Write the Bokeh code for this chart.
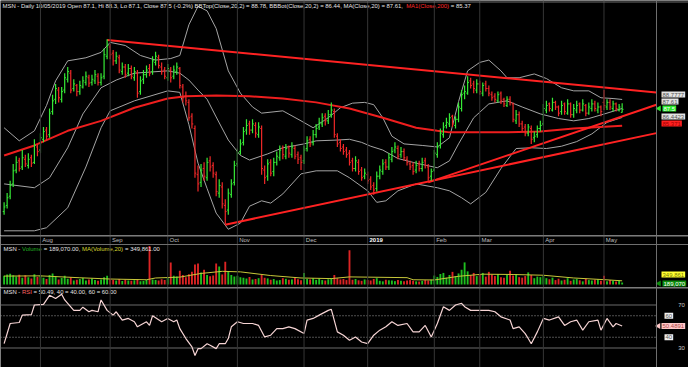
import math
from bokeh.plotting import figure
from bokeh.layouts import column
from bokeh.models import Range1d, Span, Label, ColumnDataSource
from bokeh.core.properties import value
from bokeh.embed import file_html
from bokeh.resources import INLINE

# ---------------- data ----------------
month_names = ["Aug", "Sep", "Oct", "Nov", "Dec", "2019", "Feb", "Mar", "Apr", "May"]
month_start = [12, 35, 54, 77, 99, 120, 142, 157, 178, 198]

open_jul = [74.2,75.0,76.2,77.8,79.6,80.8,80.0,81.0,80.2,81.2,80.6,82.6]
high_jul = [75.4,76.6,78.2,80.4,81.4,81.2,82.2,81.6,81.8,81.6,83.6,83.0]
low_jul = [73.8,74.6,75.8,77.4,79.2,79.4,79.6,80.0,79.8,80.0,80.4,81.4]
close_jul = [74.8,76.0,77.6,79.5,80.6,79.8,81.2,80.4,81.0,80.5,82.8,82.0]

open_aug = [82.2,83.6,84.8,84.2,87.2,88.8,90.0,88.8,90.0,91.4,92.2,90.2,90.6,89.8,90.4,91.0,91.6,91.0,91.2,91.8,91.0,91.8,94.4]
high_aug = [84.4,85.2,85.2,87.6,89.4,90.8,90.4,90.4,92.2,93.0,92.6,91.4,90.8,91.2,91.8,92.4,92.0,92.0,92.6,92.2,92.2,95.4,96.6]
low_aug = [81.8,83.2,83.4,83.8,86.8,88.2,88.4,88.4,89.6,91.0,89.6,89.8,89.2,89.4,90.2,90.6,90.4,90.6,90.8,90.6,90.6,91.4,94.0]
close_aug = [83.8,84.6,84.0,87.0,88.6,90.2,89.0,89.8,91.6,92.4,90.0,90.8,89.8,90.6,91.2,91.8,90.9,91.4,92.0,91.0,91.6,94.6,95.8]

open_sep = [95.6,94.8,93.8,94.2,92.4,93.0,92.2,92.8,91.6,92.2,89.8,91.4,92.0,92.8,92.4,93.6,94.2,93.0,92.6]
high_sep = [96.0,95.2,95.0,94.6,93.6,93.4,93.4,93.2,93.0,92.6,91.8,92.6,93.2,93.4,94.4,95.0,94.6,93.6,93.0]
low_sep = [94.0,93.2,93.4,92.2,92.0,91.6,91.8,91.4,91.2,89.0,89.4,90.8,91.6,91.8,92.0,93.2,92.8,92.0,91.4]
close_sep = [94.6,93.8,94.4,92.6,93.0,92.0,92.8,91.8,92.4,89.6,91.2,92.0,92.6,92.2,93.8,94.4,93.2,92.4,91.8]

open_oct = [91.6,92.6,91.8,92.4,92.8,90.4,89.2,88.4,86.6,85.0,79.0,78.0,79.8,78.6,80.8,80.2,79.0,76.6,77.4,75.0,74.4,76.4,78.0]
high_oct = [93.4,93.0,93.2,93.6,93.0,90.8,89.8,88.8,87.0,85.4,80.2,80.4,80.6,81.2,81.4,80.6,79.4,78.4,78.0,75.8,77.2,78.4,80.8]
low_oct = [91.2,91.0,91.4,92.0,90.2,88.4,88.0,86.0,85.0,78.6,76.8,77.4,78.2,78.2,79.4,78.6,76.2,76.0,74.6,72.6,73.8,76.0,77.6]
close_oct = [92.8,91.6,92.6,93.0,90.6,89.0,88.6,86.4,85.6,79.2,77.8,79.6,78.8,80.6,80.0,79.2,76.8,77.6,75.2,74.2,76.6,77.8,80.2]

open_nov = [80.4,82.0,83.2,84.8,85.6,84.8,85.4,84.2,85.0,79.6,78.8,80.6,79.4,80.6,81.2,82.4,81.4,82.6,81.6,82.4,81.6,81.2]
high_nov = [82.4,83.6,85.2,86.2,86.0,86.2,85.8,85.8,85.4,80.2,81.0,81.0,81.2,82.0,82.8,82.8,83.0,82.8,83.2,82.8,82.0,81.6]
low_nov = [80.0,81.6,82.8,84.2,84.2,84.4,83.8,83.8,79.0,77.8,78.2,78.8,78.8,80.2,80.8,81.0,81.0,81.2,81.2,81.0,80.4,79.6]
close_nov = [81.8,83.0,84.6,85.4,84.8,85.6,84.4,85.2,79.8,78.6,80.4,79.2,80.6,81.4,82.2,81.6,82.4,81.8,82.6,81.4,81.0,80.6]

open_dec = [80.8,82.4,83.6,83.2,84.2,85.2,85.6,86.6,86.0,86.8,87.2,84.0,83.2,82.6,82.2,81.8,80.8,79.8,80.6,79.6,78.8]
high_dec = [82.8,84.0,84.0,84.8,85.6,86.4,87.0,87.0,87.4,88.4,87.6,84.4,83.6,83.0,82.6,82.2,81.2,81.4,81.0,80.0,79.8]
low_dec = [80.4,82.0,82.6,82.8,83.8,84.8,85.2,85.4,85.6,86.4,83.8,82.6,82.0,81.6,81.2,80.2,79.4,79.4,79.0,78.2,78.4]
close_dec = [82.2,83.4,83.0,84.2,85.0,85.8,86.4,86.0,86.8,87.4,84.2,83.0,82.4,82.0,81.6,80.6,79.8,80.8,79.4,78.6,79.2]

open_jan = [79.0,78.4,77.6,77.2,78.8,79.4,80.6,80.0,81.0,82.2,82.4,81.6,82.0,81.0,80.4,80.2,79.6,80.4,79.8,80.8,80.0,78.8]
high_jan = [79.4,78.8,78.0,79.4,80.2,81.0,81.0,81.8,82.6,83.2,82.8,82.6,82.4,81.4,80.8,80.6,80.8,80.8,81.2,81.2,80.4,79.8]
low_jan = [77.8,77.0,76.4,76.8,78.4,79.0,79.6,79.6,80.6,81.8,81.0,81.2,80.8,80.2,79.6,79.0,79.2,79.4,79.4,79.8,78.2,78.2]
close_jan = [78.2,77.4,77.0,78.8,79.6,80.4,80.0,81.2,82.0,82.6,81.4,82.0,81.2,80.6,80.0,79.4,80.2,79.8,80.6,80.2,78.6,79.4]

open_feb = [79.6,81.6,82.8,84.2,85.4,85.6,86.6,85.4,86.2,87.6,89.6,89.6,91.2,90.8,90.0]
high_feb = [82.2,83.2,85.0,85.8,86.4,87.0,86.8,86.6,88.4,90.0,90.6,91.8,91.6,91.2,91.4]
low_feb = [79.4,81.2,82.4,83.8,85.0,85.2,85.2,85.0,85.8,87.2,88.8,89.4,90.2,89.6,89.6]
close_feb = [81.8,82.6,84.4,85.2,85.8,86.4,85.6,86.2,87.8,89.4,89.8,91.0,90.6,90.2,90.8]

open_mar = [90.8,89.6,90.8,90.2,89.4,89.2,88.6,89.6,88.8,88.0,88.8,88.2,86.0,86.8,85.6,85.2,84.4,85.0,83.8,84.2,85.0]
high_mar = [91.2,91.0,91.2,90.6,89.8,89.6,89.8,89.8,89.0,89.2,89.2,88.4,87.4,87.2,86.0,85.6,85.6,85.4,84.6,85.4,86.0]
low_mar = [89.4,89.2,89.8,89.2,88.6,88.4,88.4,88.2,87.8,87.8,88.0,85.8,85.6,85.2,84.6,84.0,84.0,83.0,83.2,83.8,84.6]
close_mar = [89.8,90.6,90.2,89.6,89.0,88.8,89.4,88.6,88.2,88.8,88.4,86.2,86.8,85.6,85.0,84.4,85.2,83.6,84.0,85.0,85.4]

open_apr = [85.6,87.4,88.2,87.4,88.4,87.8,87.2,88.2,87.0,88.2,86.8,87.4,88.2,87.4,88.0,87.0,87.6,88.2,87.4,87.8]
high_apr = [88.2,88.6,88.4,89.0,88.6,88.0,88.6,88.4,88.8,88.4,88.2,88.6,88.4,88.8,88.2,88.4,88.8,88.6,88.4,88.0]
low_apr = [85.4,87.0,87.2,87.2,87.4,86.6,86.8,86.8,86.8,86.4,86.4,87.0,87.0,87.2,86.6,86.8,87.2,87.2,87.0,86.6]
close_apr = [87.6,88.0,87.6,88.4,87.8,87.0,88.0,87.2,88.2,86.8,87.6,88.0,87.4,88.2,87.0,87.8,88.2,87.6,87.8,87.2]

open_may = [88.4,87.8,88.4,87.6,88.2,87.4,87.1]
high_may = [90.0,88.8,88.8,88.6,88.4,88.2,88.3]
low_may = [87.4,87.4,87.4,87.2,87.2,87.2,87.1]
close_may = [88.0,88.4,87.8,88.2,87.6,87.8,87.5]

# volume, thousands of shares
vol_jul = [820,950,1020,880,760,930,640,870,700,560,980,720]
vol_aug = [860,640,520,900,1050,760,480,620,830,540,700,390,450,520,610,380,470,560,420,350,480,690,820]
vol_sep = [560,430,380,520,340,450,390,360,410,520,300,330,450,3650,480,420,390,510,430]
vol_oct = [640,2100,820,760,1300,900,700,980,1200,1900,2000,1150,1400,900,780,860,2000,1700,950,2150,1200,900,760]
vol_nov = [820,700,650,560,720,480,520,600,900,640,580,450,520,380,420,600,540,450,480,620,500,400]
vol_dec = [1100,520,480,600,440,560,420,380,500,620,900,600,480,520,420,3250,450,520,400,350,480]
vol_jan = [420,380,520,600,350,300,450,400,380,320,420,350,300,380,420,360,300,280,340,420,380,450]
vol_feb = [850,720,1000,1100,650,900,1200,780,1050,1400,2100,1250,900,1100,800]
vol_mar = [900,1100,750,1200,950,800,1000,700,650,900,1300,850,1000,700,650,800,1150,900,600,750,700]
vol_apr = [850,600,500,650,420,550,380,450,600,350,480,520,400,300,550,420,380,450,500,350]
vol_may = [820,300,420,350,280,380,189]

vma_day = [0,12,25,35,47,50,58,65,72,78,88,98,108,114,120,133,135,142,150,158,168,178,188,198,204]
vma_val = [800,820,640,520,450,620,700,1050,1250,1200,850,620,560,720,700,650,450,430,780,980,950,880,620,460,350]

# Bollinger bands / MA20 / MA200 (bar index, price)
bbu_day = [0,5,10,14,17,21,27,32,35,40,45,50,55,58,61,64,67,70,74,78,82,85,92,98,102,107,111,115,119,122,125,128,132,138,143,147,150,153,157,160,164,166,170,175,179,184,188,193,197,201,204]
bbu_val = [85.1,83.4,84.7,88.0,91.2,93.8,94.2,94.9,96.2,95.8,94.5,93.9,94.1,94.5,98.5,100.9,100.3,98.0,92.5,89.6,87.8,87.0,87.3,86.0,85.1,86.4,87.7,88.3,88.4,88.1,86.4,84.0,83.0,82.8,82.6,83.8,88.5,92.5,93.6,93.9,92.5,91.6,91.6,92.1,91.5,90.3,89.9,89.9,89.0,88.9,88.78]
bbm_day = [0,10,15,21,26,32,37,43,54,58,61,64,67,70,74,78,81,87,92,99,103,110,114,118,121,125,130,136,143,147,150,155,160,166,171,177,183,188,193,199,204]
bbm_val = [77.8,77.3,78.6,82.5,86.9,90.3,91.3,92.2,92.5,92.2,91.3,90.0,88.8,86.5,83.5,81.5,80.9,81.7,82.5,83.0,83.4,83.5,83.6,83.2,82.7,82.2,81.1,80.5,79.9,80.8,83.0,86.4,88.2,88.6,87.8,86.9,86.3,86.0,86.3,87.0,87.61]
bbl_day = [0,10,14,21,27,32,35,43,54,58,61,64,67,70,74,78,81,85,88,92,98,103,110,114,120,123,126,130,136,143,147,151,154,159,164,169,174,179,184,189,194,199,204]
bbl_val = [71.7,71.7,72.1,74.7,80.0,85.1,87.3,88.6,89.9,89.7,85.5,80.5,77.2,74.0,71.9,72.7,74.9,75.6,75.3,76.5,79.1,79.5,79.5,78.6,76.9,75.4,75.6,76.9,77.8,77.3,76.9,76.0,75.2,76.7,79.8,82.4,82.5,82.4,82.7,83.3,84.3,85.8,86.44]
ma200_day = [0,10,21,32,43,54,60,70,81,92,103,114,125,136,143,147,155,166,177,188,204]
ma200_val = [81.5,82.8,84.7,86.0,87.7,88.9,89.2,89.3,89.2,88.9,88.4,87.6,86.4,85.1,84.7,84.5,84.5,84.5,84.6,85.0,85.37]

# hand-drawn trend lines (bar index, price)
tl_top_day = [34, 215.3]
tl_top_val = [96.5, 89.7]
tl_low1_day = [73, 215.3]
tl_low1_val = [72.5, 84.4]
tl_low2_day = [140, 215.3]
tl_low2_val = [78.0, 88.1]

rsi_day = [0,2,5,6,9,10,13,15,17,19,20,23,25,26,28,29,31,32,34,36,37,39,41,43,44,47,48,49,52,54,56,57,58,60,62,63,64,65,67,68,70,71,73,74,75,77,79,82,84,86,88,90,92,94,96,99,100,102,104,107,108,110,112,114,116,118,120,122,124,126,128,130,133,135,137,139,141,143,145,147,149,151,152,154,157,160,162,164,167,168,170,172,173,174,176,178,180,183,185,187,189,191,193,196,197,199,201,202,204]
rsi_val = [34,52.8,53.7,60.6,61,70,70.6,79,76,80,74.7,65,65,68,63.7,65,63.7,74.7,65,60.6,63.7,56,57.5,54.4,49.7,54.4,51,60,54.4,57.5,54.4,56,48,38.8,31,23,29.4,29.4,34,32.5,29.4,34,34,38.8,49.7,54.4,52.8,52.8,51,40.3,41.9,48,48,49.7,48,43.4,56,57.5,60.6,65,66,45,41.9,37.2,40.3,35.6,34,41.9,46.6,49.7,54.4,51,52.8,45,45,51,40.3,52.8,68.4,65,70,71.6,68.4,65,65,65,63.7,59,56,48,49.7,43.4,38.8,34,45,57.5,56,59,51,54.4,56,46.6,54.4,56,46.6,57.5,49.7,52.8,50.49]

opens = open_jul + open_aug + open_sep + open_oct + open_nov + open_dec + open_jan + open_feb + open_mar + open_apr + open_may
highs = high_jul + high_aug + high_sep + high_oct + high_nov + high_dec + high_jan + high_feb + high_mar + high_apr + high_may
lows = low_jul + low_aug + low_sep + low_oct + low_nov + low_dec + low_jan + low_feb + low_mar + low_apr + low_may
closes = close_jul + close_aug + close_sep + close_oct + close_nov + close_dec + close_jan + close_feb + close_mar + close_apr + close_may
vols = vol_jul + vol_aug + vol_sep + vol_oct + vol_nov + vol_dec + vol_jan + vol_feb + vol_mar + vol_apr + vol_may
idx = list(range(len(closes)))

# ---------------- layout helpers ----------------
W = 688
H1, H2, H3 = 235, 52, 80
X0, X1 = -1.19, 225.9
PXU = W / (X1 - X0)


def rx(px):
    return X0 + px / PXU


def py(px):
    return 87.5 + (108.8 - px) / 7.69


def vy(px):
    return (284.0 - px) * 95.0


def ry(px):
    return 70.0 + (304.5 - px) / 1.075


FONT = "Liberation Sans"
FS = 5.95
TXT = "#e4e4e4"
GRID = "#363636"
SEP = "#6e6e6e"
UP = "#36ea36"
DN = "#f02828"
VUP = "#1fbf1f"
VDN = "#dc2424"


def seg(x0, em):
    return x0 + em * FS / PXU


def make_fig(h, y0, y1):
    p = figure(width=W, height=h, x_range=Range1d(X0, X1), y_range=Range1d(y0, y1),
               output_backend="svg", toolbar_location=None,
               x_axis_location=None, y_axis_location=None,
               min_border=0, min_border_left=0, min_border_right=0,
               min_border_top=0, min_border_bottom=0,
               background_fill_color="black", border_fill_color="black",
               outline_line_color=None)
    p.grid.visible = False
    for m in month_start:
        p.add_layout(Span(location=m, dimension="height", line_color=GRID, line_width=1))
    p.add_layout(Span(location=rx(656), dimension="height", line_color=SEP, line_width=1))
    return p


def box(p, x, y, txt, bg, fg):
    p.add_layout(Label(x=x, y=y, text=txt, text_font=FONT, text_font_size="6px",
                       text_color=fg, text_align="left", text_baseline="middle",
                       background_fill_color=bg, padding=1))


def plain(p, x, y, txt, fg):
    p.add_layout(Label(x=x, y=y, text=txt, text_font=FONT, text_font_size="6px",
                       text_color=fg, text_align="center", text_baseline="middle"))


def titles(p, x0, y, parts):
    xs = [seg(x0, em) for (_, em, _) in parts]
    p.text(x=xs, y=[y] * len(parts), text=[t for (t, _, _) in parts],
           text_color=[c for (_, _, c) in parts], text_font=value(FONT),
           text_font_size=f"{FS}px", text_align="left", text_baseline="middle")


# ---------------- price panel ----------------
p1 = make_fig(H1, py(235), py(0))
p1.add_layout(Span(location=py(1.5), dimension="width", line_color=SEP, line_width=1))

p1.line(bbu_day, bbu_val, line_color="#a4a4a4", line_width=1)
p1.line(bbm_day, bbm_val, line_color="#a4a4a4", line_width=1)
p1.line(bbl_day, bbl_val, line_color="#a4a4a4", line_width=1)
p1.line(ma200_day, ma200_val, line_color="#ee1e1e", line_width=2)
p1.line(tl_top_day, tl_top_val, line_color="#ff2222", line_width=2)
p1.line(tl_low1_day, tl_low1_val, line_color="#ff2222", line_width=2)
p1.line(tl_low2_day, tl_low2_val, line_color="#ff2222", line_width=2)

colors = [UP if c >= o else DN for o, c in zip(opens, closes)]
src = ColumnDataSource(dict(x=idx, o=opens, h=highs, l=lows, c=closes, col=colors,
                            xl=[i - 0.45 for i in idx], xr=[i + 0.45 for i in idx]))
p1.segment(x0="x", y0="l", x1="x", y1="h", line_color="col", line_width=1.2, source=src)
p1.segment(x0="xl", y0="o", x1="x", y1="o", line_color="col", line_width=1, source=src)
p1.segment(x0="x", y0="c", x1="xr", y1="c", line_color="col", line_width=1, source=src)

s1 = ("MSN - Daily 10/05/2019 Open 87.1, Hi 88.3, Lo 87.1, Close 87.5 (-0.2%) "
      "BBTop(Close,20,2) = 88.78, BBBot(Close,20,2) = 86.44, MA(Close,20) = 87.61,")
titles(p1, rx(2), py(5.5), [(s1, 0, TXT), ("MA1(Close,200)", 67.84, "#ff2a2a"),
                             ("= 85.37", 67.84 + 7.22 + 0.278, TXT)])

box(p1, rx(661), py(94), "88.7777", "#e2e2e2", "#555555")
box(p1, rx(661), py(101), "87.61", "#e2e2e2", "#555555")
box(p1, rx(662), py(108), "87.5", "#2ee82e", "#ffffff")
p1.scatter([rx(658.5)], [py(108)], marker="triangle", size=6, angle=math.pi / 2,
           fill_color="#2ee82e", line_color=None)
box(p1, rx(661), py(116), "86.4423", "#e2e2e2", "#555555")
box(p1, rx(661), py(123), "85.371", "#ff2020", "#a00000")

# ---------------- date strip + volume panel ----------------
p2 = make_fig(H2, vy(287), vy(235))
p2.add_layout(Span(location=vy(235.6), dimension="width", line_color=SEP, line_width=1))
p2.add_layout(Span(location=vy(244), dimension="width", line_color=SEP, line_width=1))

p2.text(x=[m + 0.6 for m in month_start], y=[vy(239.5)] * len(month_start), text=month_names,
        text_color=["#ffffff" if n == "2019" else "#bdbdbd" for n in month_names],
        text_font_style=["bold" if n == "2019" else "normal" for n in month_names],
        text_font=value(FONT), text_font_size="6px", text_align="left", text_baseline="middle")

vcolors = [VUP if c >= o else VDN for o, c in zip(opens, closes)]
p2.vbar(x=idx, top=vols, bottom=0, width=0.62, fill_color=vcolors, line_color=None)
p2.line(vma_day, vma_val, line_color="#c8c83a", line_width=1)

titles(p2, rx(3), vy(248), [("MSN -", 0, TXT), ("Volume", 3.111, "#22b022"),
                            ("= 189,070.00,", 6.779, TXT), ("MA(Volume,20)", 13.201, "#d8d830"),
                            ("= 349,861.00", 20.425, TXT)])
box(p2, rx(661), vy(274), "349.861", "#ffff33", "#7a7a00")
box(p2, rx(662), vy(283), "189,070", "#0c8c0c", "#ffffff")
p2.scatter([rx(658.5)], [vy(283)], marker="triangle", size=6, angle=math.pi / 2,
           fill_color="#0c8c0c", line_color=None)

# ---------------- RSI panel ----------------
p3 = make_fig(H3, ry(367), ry(287))
p3.add_layout(Span(location=ry(287.6), dimension="width", line_color=SEP, line_width=1))
edge = rx(656)
p3.line([X0, edge], [70, 70], line_color="#6a6a6a", line_width=1)
p3.line([X0, edge], [30, 30], line_color="#6a6a6a", line_width=1)
p3.line([X0, edge], [60, 60], line_color="#a0a0a0", line_width=1, line_dash="1 2")
p3.line([X0, edge], [40, 40], line_color="#a0a0a0", line_width=1, line_dash="1 2")
p3.line(rsi_day, rsi_val, line_color="#f6d4d4", line_width=1.2)

titles(p3, rx(3), ry(291.5), [("MSN -", 0, TXT), ("RSI", 3.111, "#ff6060"),
                              ("= 50.49, 40 = 40.00, 60 = 60.00", 5.056, TXT)])
plain(p3, rx(681), 70, "70", "#c8c8c8")
plain(p3, rx(681), 30, "30", "#c8c8c8")
box(p3, rx(664), 60, "60", "#f0f0f0", "#555555")
box(p3, rx(664), 40, "40", "#f0f0f0", "#555555")
box(p3, rx(661), 50.49, "50.4891", "#ffc8c8", "#b04848")
p3.scatter([rx(658)], [50.49], marker="triangle", size=6, angle=math.pi / 2,
           fill_color="#ffc8c8", line_color=None)

layout = column(p1, p2, p3, spacing=0)
open("out.html", "w").write(file_html(layout, INLINE))
